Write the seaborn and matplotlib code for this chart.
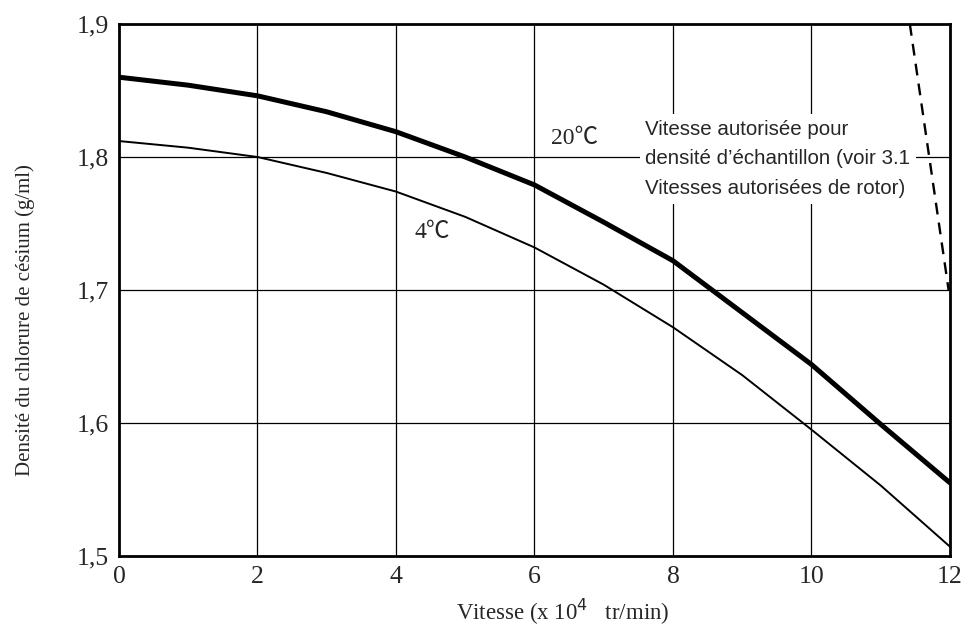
import numpy as np
import pandas as pd
import matplotlib
matplotlib.use("Agg")
import matplotlib.pyplot as plt
import seaborn as sns

# Values
vitesse = [0, 1, 2, 3, 4, 5, 6, 7, 8, 9, 10, 11, 12]
densite_20 = [1.860, 1.854, 1.846, 1.834, 1.819, 1.800, 1.779, 1.751, 1.722, 1.683, 1.644, 1.599, 1.555]
densite_4 = [1.812, 1.807, 1.800, 1.788, 1.774, 1.755, 1.732, 1.704, 1.672, 1.636, 1.595, 1.553, 1.507]
limite_x = [11.42, 11.98]
limite_y = [1.90, 1.70]
x_ticks = [0, 2, 4, 6, 8, 10, 12]
y_ticks = [1.5, 1.6, 1.7, 1.8, 1.9]
y_ticklabels = ["1,5", "1,6", "1,7", "1,8", "1,9"]

df = pd.DataFrame({"vitesse": vitesse + vitesse,
                   "densite": densite_20 + densite_4,
                   "temp": ["20"] * len(vitesse) + ["4"] * len(vitesse)})

sns.set_style("white")
serif = ["Liberation Serif", "DejaVu Serif"]
plt.rcParams["font.family"] = serif

fig = plt.figure(figsize=(9.68, 6.35), dpi=100)
ax = fig.add_axes([0.1229, 0.1244, 0.8585, 0.8378])

# Grid
for xv in x_ticks[1:-1]:
    ax.axvline(xv, color="black", lw=0.9, zorder=1)
for yv in y_ticks[1:-1]:
    ax.axhline(yv, color="black", lw=0.9, zorder=1)

sns.lineplot(data=df[df["temp"] == "20"], x="vitesse", y="densite",
             color="black", lw=3.6, ax=ax, zorder=3)
sns.lineplot(data=df[df["temp"] == "4"], x="vitesse", y="densite",
             color="black", lw=1.4, ax=ax, zorder=3)
ax.plot(limite_x, limite_y, color="black", lw=1.7, ls=(0, (5, 3.5)), zorder=3)

ax.set_xlim(0, 12)
ax.set_ylim(1.5, 1.9)
ax.set_xticks(x_ticks)
ax.set_xticklabels([str(t) for t in x_ticks], fontsize=18.5)
ax.set_yticks(y_ticks)
ax.set_yticklabels(y_ticklabels, fontsize=18.5)
ax.tick_params(length=0, pad=7)

for s in ax.spines.values():
    s.set_linewidth(2.0)
    s.set_color("black")

ax.set_xlabel("Vitesse (x 10$^{4}$   tr/min)", fontsize=16.5)
ax.xaxis.set_label_coords(0.534, -0.077)
ax.set_ylabel("Densité du chlorure de césium (g/ml)", fontsize=15)
ax.yaxis.set_label_coords(-0.101, 0.444)

ax.text(6.58, 1.814, "20℃", fontsize=17, ha="center", va="center",
        family=["Liberation Serif", "Noto Sans CJK JP"], zorder=4)
ax.text(4.52, 1.743, "4℃", fontsize=17, ha="center", va="center",
        family=["Liberation Serif", "Noto Sans CJK JP"], zorder=4)

ax.text(7.6, 1.7985, "Vitesse autorisée pour\ndensité d’échantillon (voir 3.1\nVitesses autorisées de rotor)",
        fontsize=14.8, family="Liberation Sans", ha="left", va="center", linespacing=1.7,
        bbox=dict(facecolor="white", edgecolor="none", pad=4), zorder=2)

fig.savefig("out.png", dpi=100)
